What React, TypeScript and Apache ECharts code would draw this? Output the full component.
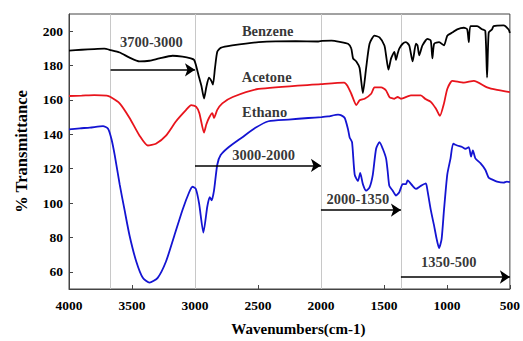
import React, { useEffect, useRef } from "react";
import * as echarts from "echarts";

const FONT = "Liberation Serif";

const benzene: [number, number][] = [
  [4000, 188.7], [3900, 189.2], [3800, 189.6], [3720, 189.8], [3670, 189], [3598, 187.6], [3519, 184.6],
  [3440, 182.4], [3361, 182.8], [3283, 184.2], [3178, 185.7], [3099, 185.2], [3033, 184.2], [3007, 183.3],
  [2993, 180.5], [2967, 173], [2949, 168.3], [2928, 160.8], [2910, 167.4], [2889, 173], [2870, 171.1],
  [2857, 168.9], [2841, 178.6], [2823, 188], [2796, 190.3], [2705, 191.7], [2494, 193.6], [2200, 194.2],
  [2021, 194], [1990, 194.4], [1916, 194.5], [1850, 193.8], [1785, 192.7], [1759, 189.9], [1745, 184.2],
  [1719, 182.4], [1693, 178.6], [1667, 164], [1641, 178.6], [1614, 192.7], [1575, 197.4], [1535, 196.4],
  [1496, 191.7], [1483, 186], [1464, 177.6], [1443, 184.2], [1417, 188], [1404, 183.3], [1391, 187],
  [1378, 189.9], [1351, 192.7], [1325, 193.6], [1299, 191.7], [1272, 182.4], [1246, 192.7], [1233, 191.7],
  [1220, 186], [1194, 191.7], [1154, 195.5], [1128, 194.5], [1115, 184.2], [1101, 192.7], [1062, 193.6],
  [1023, 191.7], [997, 197.4], [957, 199.2], [918, 201.1], [865, 202], [839, 201.1], [826, 193.6],
  [813, 203], [760, 203], [721, 201.1], [695, 200.2], [681, 173], [668, 199.2], [642, 201], [629, 203],
  [550, 203.4], [510, 201], [500, 199],
];

const acetone: [number, number][] = [
  [4000, 162.3], [3900, 162.5], [3800, 162.8], [3700, 162.5], [3670, 161.7], [3598, 158], [3519, 149.5],
  [3440, 139.2], [3375, 133.5], [3310, 134.5], [3230, 139.2], [3150, 147.6], [3070, 154.2], [3030, 157],
  [2990, 156], [2965, 152.3], [2928, 141], [2910, 145.7], [2889, 149.5], [2862, 152.3], [2849, 149.5],
  [2823, 154.2], [2783, 158], [2700, 161.7], [2494, 166.4], [2000, 169.2], [1816, 170.1], [1790, 168.3],
  [1759, 163.6], [1719, 157], [1693, 159.8], [1653, 160.7], [1601, 163.6], [1575, 167.3], [1522, 167.3],
  [1483, 165.5], [1456, 161.7], [1417, 160.7], [1391, 161.7], [1365, 160.7], [1286, 162.6], [1207, 162.6],
  [1170, 160.5], [1128, 158.9], [1089, 155.1], [1062, 151.4], [1055, 150.8], [1023, 158], [997, 166.4],
  [957, 171.1], [865, 170.1], [786, 171.1], [681, 167.3], [602, 165.8], [500, 164.5],
];

const ethanol: [number, number][] = [
  [4000, 142.9], [3913, 143.5], [3834, 143.9], [3730, 144.8], [3690, 143.3], [3663, 137.3], [3637, 127.9],
  [3598, 111], [3559, 96], [3519, 81], [3466, 66], [3414, 56.5], [3361, 53.7], [3296, 56.5], [3230, 66],
  [3164, 81], [3099, 96], [3046, 106.3], [3020, 109.5], [2993, 108.2], [2967, 99.7], [2933, 82.8],
  [2902, 98], [2883, 103.5], [2867, 101.6], [2849, 107.2], [2823, 122.3], [2796, 127.9], [2731, 132.6],
  [2626, 138.2], [2520, 143.8], [2416, 147.6], [2258, 148.6], [2100, 149.5], [1995, 150], [1943, 150.4],
  [1864, 151.4], [1838, 151], [1811, 149.5], [1785, 143], [1772, 138.2], [1753, 135.4], [1732, 116.6],
  [1706, 112.8], [1688, 117.6], [1667, 111], [1641, 107.2], [1614, 109.1], [1588, 116.6], [1562, 131.6],
  [1535, 135.4], [1509, 131.6], [1483, 126], [1470, 118.5], [1457, 110], [1430, 107.2], [1404, 104.4],
  [1378, 106.3], [1351, 111], [1325, 111], [1312, 113.2], [1272, 110], [1246, 108.2], [1207, 110],
  [1167, 111.4], [1154, 107.2], [1128, 96], [1101, 86.6], [1081, 79], [1062, 73.8], [1042, 79], [1023, 96],
  [997, 116.6], [971, 126], [950, 134.5], [918, 133.5], [879, 132.6], [853, 131.6], [826, 132.6],
  [808, 127], [794, 130.7], [774, 126], [734, 123.2], [695, 119.4], [668, 114.7], [642, 113.8],
  [602, 112.5], [550, 111.9], [524, 112.5], [500, 112.2],
];

const yTicks = [60, 80, 100, 120, 140, 160, 180, 200];
const regionLines = [3670, 3000, 2000, 1365];
const arrows: [number, number, number][] = [
  [3670, 3000, 177.5],
  [3000, 2000, 121.9],
  [2000, 1365, 95.9],
  [1365, 500, 57],
];
const regionNotes: { name: string; value: [number, number] }[] = [
  { name: "3700-3000", value: [3346, 193.8] },
  { name: "3000-2000", value: [2455, 127.9] },
  { name: "2000-1350", value: [1706, 102.5] },
  { name: "1350-500", value: [985, 65.5] },
];
const seriesNotes: { name: string; value: [number, number] }[] = [
  { name: "Benzene", value: [2423, 200.2] },
  { name: "Acetone", value: [2431, 173.4] },
  { name: "Ethano", value: [2447, 153.2] },
];

export default function App() {
  const ref = useRef<HTMLDivElement>(null);
  useEffect(() => {
    document.body.style.margin = "0";
    if (!ref.current) return;
    const chart = echarts.init(ref.current, null, { renderer: "svg" });
    const labelFont = { fontFamily: FONT, fontWeight: "bold" as const, color: "#000" };
    chart.setOption({
      animation: false,
      backgroundColor: "#fff",
      grid: { left: 69, right: 10, top: 14, bottom: 42, show: true, borderColor: "#444", borderWidth: 1 },
      xAxis: {
        type: "value",
        min: 500,
        max: 4000,
        interval: 500,
        inverse: true,
        name: "Wavenumbers(cm-1)",
        nameLocation: "middle",
        nameGap: 32,
        nameTextStyle: { ...labelFont, fontSize: 15, padding: [0, 0, 0, 18] },
        axisLine: { lineStyle: { color: "#444", width: 1 } },
        axisTick: { inside: true, length: 4, lineStyle: { color: "#444" } },
        axisLabel: { ...labelFont, fontSize: 13.5, margin: 9, formatter: (v: number) => String(v) },
        splitLine: { show: false },
      },
      yAxis: {
        type: "value",
        min: 50,
        max: 210,
        name: "% Transmittance",
        nameLocation: "middle",
        nameGap: 39,
        nameTextStyle: { ...labelFont, fontSize: 16.5 },
        axisLine: { show: true, lineStyle: { color: "#444", width: 1 } },
        axisTick: { inside: true, length: 4, customValues: yTicks, lineStyle: { color: "#444" } },
        axisLabel: { ...labelFont, fontSize: 13.5, margin: 6, customValues: yTicks },
        splitLine: { show: false },
      },
      series: [
        {
          name: "Benzene",
          type: "line",
          data: benzene,
          showSymbol: false,
          smooth: 0.2,
          lineStyle: { color: "#000", width: 1.8 },
          z: 3,
          markLine: {
            silent: true,
            symbol: "none",
            label: { show: false },
            lineStyle: { color: "#c8c8c8", width: 1, type: "solid" },
            data: regionLines.map((v) => ({ xAxis: v })),
            z: 1,
          },
        },
        {
          name: "Acetone",
          type: "line",
          data: acetone,
          showSymbol: false,
          smooth: 0.2,
          lineStyle: { color: "#e8141c", width: 1.8 },
          z: 3,
        },
        {
          name: "Ethanol",
          type: "line",
          data: ethanol,
          showSymbol: false,
          smooth: 0.2,
          lineStyle: { color: "#1414d2", width: 1.8 },
          z: 3,
        },
        {
          name: "regions",
          type: "scatter",
          data: regionNotes,
          symbolSize: 0,
          itemStyle: { color: "transparent" },
          label: { show: true, position: "inside", formatter: "{b}", ...labelFont, fontSize: 14.5 },
          z: 5,
          markLine: {
            silent: true,
            symbol: ["none", "arrow"],
            symbolSize: 10,
            label: { show: false },
            lineStyle: { color: "#000", width: 1.5, type: "solid" },
            itemStyle: { color: "#000" },
            data: arrows.map(([a, b, y]) => [{ coord: [a, y] }, { coord: [b, y] }]),
          },
        },
        {
          name: "names",
          type: "scatter",
          data: seriesNotes,
          symbolSize: 0,
          itemStyle: { color: "transparent" },
          label: { show: true, position: "inside", formatter: "{b}", ...labelFont, fontSize: 14.5 },
          z: 5,
        },
      ],
    });
    return () => chart.dispose();
  }, []);
  return <div ref={ref} style={{ width: 523, height: 341 }} />;
}
